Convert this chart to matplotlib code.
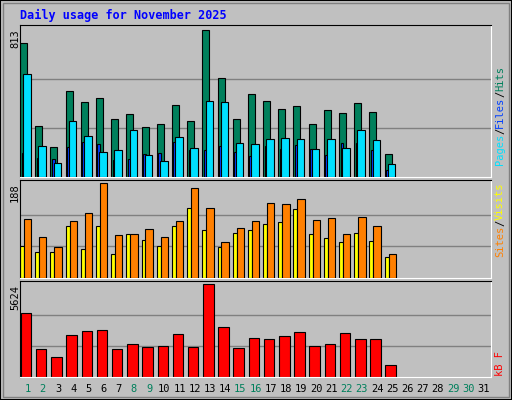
import matplotlib
matplotlib.use("Agg")
import matplotlib.pyplot as plt
from matplotlib.patches import Rectangle

days = list(range(1, 32))
hits = [741,283,168,477,416,438,322,350,278,294,399,311,813,548,322,460,421,377,394,294,372,355,410,361,129]
files = [570,173,79,311,228,140,151,261,123,90,223,162,421,416,190,184,212,217,212,156,212,162,261,206,74]
pages = [134,107,101,168,195,184,96,101,129,134,195,151,151,173,140,118,173,156,178,156,123,190,190,151,40]
visits = [116,82,61,112,129,188,84,86,96,82,112,178,139,72,98,112,149,147,157,114,119,86,121,102,47]
sites = [63,51,51,102,57,102,47,86,75,63,102,139,95,61,88,95,106,110,137,86,80,72,88,74,41]
kbytes = [3832,1669,1236,2534,2781,2843,1669,1978,1792,1854,2596,1792,5624,3029,1731,2349,2287,2472,2719,1854,1978,2657,2287,2287,742]
weekend = {1,2,8,9,15,16,22,23,29,30}

W, H = 512, 400
fig = plt.figure(figsize=(W/100, H/100), dpi=100, facecolor="#C0C0C0")
mono = "DejaVu Sans Mono"

# bevel border
fig.patches.append(Rectangle((0, 0), 1, 1, transform=fig.transFigure, fill=False, edgecolor="#000000", lw=1.5))
fig.patches.append(Rectangle((3/W, 3/H), 1-6/W, 1-6/H, transform=fig.transFigure, fill=False, edgecolor="#808080", lw=1))

def mkax(top, bottom):
    ax = fig.add_axes([20/W, 1-bottom/H, 471/W, (bottom-top)/H])
    ax.set_facecolor("#C0C0C0")
    ax.set_xlim(0.5, 31.5)
    ax.set_xticks([]); ax.set_yticks([])
    for s in ax.spines.values():
        s.set_color("black")
    ax.spines["right"].set_color("white"); ax.spines["bottom"].set_color("white")
    return ax

def bars(ax, vals, off, wid, color, z):
    x = [d - 0.5 + off for d in days[:len(vals)]]
    ax.bar(x, vals, width=wid, align="edge", color=color, edgecolor="black", linewidth=0.8, zorder=z)

ax1 = mkax(25, 177)
top1 = 813
ax1.set_ylim(0, top1*1.035)
for f in (1/3, 2/3):
    ax1.axhline(top1*f, color="#808080", lw=1, zorder=1)
bars(ax1, hits, 0.0, 0.46, "#00805C", 2)
bars(ax1, pages, 0.1, 0.18, "#0040FF", 3)
bars(ax1, files, 0.21, 0.5, "#00E0FF", 4)

ax2 = mkax(180, 278)
top2 = 188
ax2.set_ylim(0, top2*1.03)
for f in (1/3, 2/3):
    ax2.axhline(top2*f, color="#808080", lw=1, zorder=1)
bars(ax2, sites, 0.0, 0.26, "#FFFF00", 2)
bars(ax2, visits, 0.26, 0.48, "#FF8000", 3)

ax3 = mkax(281, 377)
top3 = 5624
ax3.set_ylim(0, top3*1.03)
for f in (1/3, 2/3):
    ax3.axhline(top3*f, color="#808080", lw=1, zorder=1)
bars(ax3, kbytes, 0.05, 0.69, "#FF0000", 2)

fig.text(20/W, 1-15/H, "Daily usage for November 2025", color="#0000FF", fontsize=8.5,
         fontweight="bold", family=mono, va="center", ha="left")

for y, t in ((29, "813"), (183, "188"), (285, "5624")):
    fig.text(15/W, 1-y/H, t, rotation=90, fontsize=7.5, family=mono, ha="center", va="top")

def rlabel(y_bottom, parts):
    yy = 1 - y_bottom/H
    for txt, col in parts:
        t = fig.text(500/W, yy, txt, rotation=90, color=col, fontsize=7.5, family=mono, ha="center", va="bottom")
        yy += len(txt) * 6.2 / H

rlabel(165, [("Pages", "#00E0FF"), ("/", "black"), ("Files", "#0040FF"), ("/", "black"), ("Hits", "#00805C")])
rlabel(257, [("Sites", "#FF8000"), ("/", "black"), ("Visits", "#FFFF00")])
rlabel(376, [("kB F", "#FF0000")])

for d in days:
    x = 20 + (d - 0.5) * 471/31 - 0.5*471/31 + 471/31*0.5
    fig.text((20 + (d - 0.5 - 0.5) * 471/31 + 471/31*0.5)/W, 1-389/H, str(d), fontsize=7.5, family=mono,
             color="#00805C" if d in weekend else "black", ha="center", va="center")

fig.savefig("out.png", dpi=100, facecolor=fig.get_facecolor())
